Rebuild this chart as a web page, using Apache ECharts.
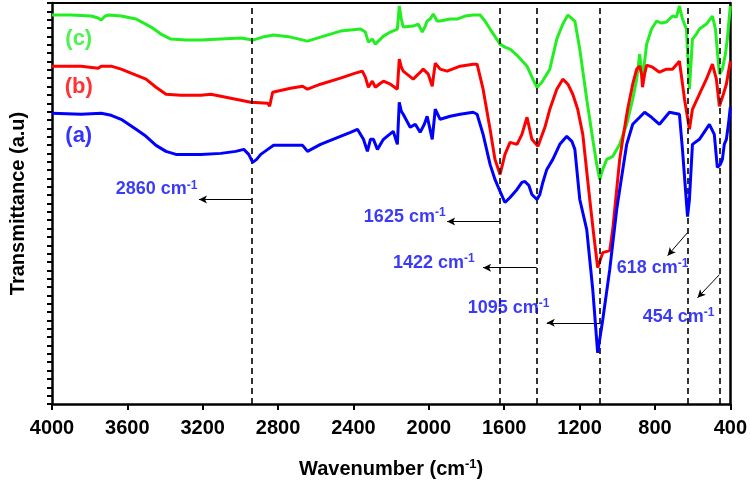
<!DOCTYPE html>
<html>
<head>
<meta charset="utf-8">
<script src="https://cdn.jsdelivr.net/npm/echarts@6/dist/echarts.min.js"></script>
<style>html,body{margin:0;padding:0;background:#fff}#c{width:750px;height:485px}</style>
</head>
<body>
<div id="c"></div>
<script>
// Wavenumber (cm-1) vs transmittance (a.u.)
const seriesC = [[4000,97],[3898,97],[3792,96.75],[3755,96.25],[3739,95.75],[3718,96.75],[3697,97],[3633,96.75],[3554,96],[3474,94],[3422,92.25],[3369,91],[3289,90.75],[3210,90.75],[3104,91],[2998,91.25],[2935,90.75],[2882,91.5],[2824,92],[2734,91.5],[2644,90.5],[2575,91.5],[2469,93],[2363,93.5],[2337,92.75],[2321,90.25],[2300,91],[2284,89.75],[2257,91],[2241,91.75],[2204,92.75],[2167,93.5],[2157,99.25],[2146,96],[2136,94],[2083,94.25],[2056,94.75],[2035,92.75],[2019,94.25],[2009,95.5],[1993,96],[1977,97.25],[1956,95.5],[1940,95.5],[1887,96],[1850,96],[1808,96.75],[1765,97],[1728,97],[1702,95.5],[1675,93.5],[1622,89.75],[1596,89],[1569,88.5],[1527,86.75],[1479,84.25],[1448,81],[1426,79],[1400,80.25],[1358,83.5],[1321,91],[1289,94.75],[1262,97],[1225,95.5],[1199,88.5],[1162,76],[1130,66],[1109,59.75],[1093,56],[1077,58.5],[1056,61],[1024,61.75],[987,64.75],[950,69.75],[918,76],[897,81],[881,87.25],[866,81],[844,89.75],[818,93.5],[791,95.5],[765,95],[739,95.25],[707,96.75],[686,96.5],[670,99.25],[654,96],[633,93.5],[617,78.5],[601,91],[580,92.25],[564,93.5],[527,94.75],[495,96.75],[479,93.5],[458,82.25],[442,83.5],[426,87.25],[416,91],[400,99.25]];
const seriesB = [[4000,84.25],[3845,84.25],[3755,83.75],[3739,84.25],[3686,84.25],[3633,83.5],[3554,82],[3501,81],[3448,79],[3395,77.25],[3316,77],[3210,77],[3157,77.25],[3051,76.25],[2945,75.25],[2855,75],[2845,74.25],[2829,77.75],[2734,78.75],[2670,79.25],[2644,78.5],[2575,79.75],[2469,81.25],[2390,82.5],[2353,83],[2337,81.5],[2321,79],[2300,80.5],[2284,79],[2257,80],[2241,80.5],[2204,79.75],[2167,78.5],[2157,86],[2146,84],[2136,83],[2083,81],[2056,82.25],[2030,83.5],[2003,82.25],[1982,79.25],[1966,85],[1940,83.5],[1903,83],[1834,84.25],[1765,84.75],[1744,84.75],[1712,78.5],[1675,68.5],[1649,61],[1622,57.25],[1596,62.25],[1569,65.25],[1532,64.75],[1506,67.25],[1479,71.5],[1453,66],[1421,64.25],[1384,69],[1358,73.5],[1321,78.5],[1289,81],[1262,79.75],[1236,77.25],[1210,73.5],[1183,67.25],[1146,51],[1125,42.25],[1104,34],[1077,37.75],[1040,38.25],[1024,43.5],[1003,53.5],[987,61],[971,66],[945,73.5],[918,79.75],[897,83.5],[881,84.25],[871,82.25],[866,79],[855,82.25],[844,84.5],[813,84],[776,82.75],[739,83.5],[707,83.5],[670,85.5],[643,76],[617,68.5],[601,73.5],[564,77.25],[527,81],[495,84.75],[474,81],[458,74.25],[437,77.25],[421,79.75],[400,85.5]];
const seriesA = [[4000,72.5],[3845,72.25],[3739,72.5],[3686,72],[3633,71],[3554,68.5],[3501,66.75],[3448,64.5],[3395,63],[3342,62.25],[3210,62.25],[3104,62.5],[3025,63],[2982,63.5],[2956,62.25],[2935,60.25],[2914,61],[2892,62.25],[2855,63.5],[2824,64.5],[2734,64.5],[2670,64.5],[2644,63],[2575,64.75],[2469,66.75],[2416,67.75],[2379,68.5],[2347,66],[2326,63],[2310,66],[2294,66],[2273,63.5],[2241,66],[2189,68],[2167,64.75],[2157,75.25],[2146,73],[2136,72.25],[2099,69],[2072,69.75],[2046,67.75],[2024,69.75],[2009,71.75],[1982,66],[1966,73.5],[1940,71],[1887,71.75],[1834,72.25],[1765,72.75],[1744,72.25],[1712,67.25],[1675,59.75],[1649,56],[1622,53],[1596,50.25],[1569,51.5],[1532,53.5],[1506,55.25],[1490,55.5],[1469,54.5],[1453,52.25],[1426,51],[1411,52.25],[1395,55.25],[1374,58.5],[1342,61],[1305,64.75],[1268,66.75],[1241,65.5],[1225,63.5],[1199,51],[1162,43.5],[1130,28.5],[1104,12.75],[1077,21],[1040,33.5],[1003,48.5],[987,53.5],[950,64.75],[918,69.75],[881,71.5],[855,72.75],[818,71.5],[776,69.75],[723,72.75],[670,72.25],[654,63.5],[638,53.5],[627,46.75],[617,51],[601,64.75],[564,66],[511,69.75],[485,67.25],[469,59],[453,59.75],[442,61],[432,64.75],[421,66],[410,69.75],[400,74]];

const xTicks = [4000,3600,3200,2800,2400,2000,1600,1200,800,400];
const peakLines = [2940,1622,1428,1093,624,458];
const peakNames = ['2860','1625','1422','1095','618','454'];
// label anchor [wavenumber, T] for each peak annotation text
const peakTextPos = [[3445,53.5],[2128,46.75],[1974,35.25],[1577,24],[813,34],[675,21.75]];
// arrow [from, to] for each peak annotation
const peakArrows = [
  [[2940,51],[3220,51]],
  [[1622,45.5],[1903,45.5]],
  [[1428,34],[1712,34]],
  [[1093,20.25],[1374,20.25]],
  [[627,42.75],[733,37]],
  [[458,32.25],[574,26.5]]
];
const curveNames = ['(a)','(b)','(c)'];
const curveColors = ['#0000ff','#ff0000','#22ee22'];
const curveLabelPos = [[3858,66.75],[3858,79],[3858,91]];

const FONT = 'Liberation Sans, Arial, sans-serif';
const annColor = '#0a0af5';

const chart = echarts.init(document.getElementById('c'));
const option = {
  backgroundColor: '#fff',
  animation: false,
  grid: {left: 51, right: 19, top: 3, bottom: 81},
  xAxis: [{
    type: 'value', inverse: true, min: 400, max: 4000, interval: 400,
    position: 'bottom',
    name: '{m|Wavenumber (cm}{s|-1}{m|)}',
    nameLocation: 'middle', nameGap: 54,
    nameTextStyle: {rich: {
      m: {fontFamily: FONT, fontSize: 20, fontWeight: 'bold', color: '#000', lineHeight: 22},
      s: {fontFamily: FONT, fontSize: 13, fontWeight: 'bold', color: '#000', verticalAlign: 'top', lineHeight: 14}
    }},
    axisLine: {show: true, onZero: false, lineStyle: {color: '#000', width: 2.5}},
    axisTick: {show: true, inside: false, length: 6, lineStyle: {color: '#000', width: 2}},
    axisLabel: {margin: 14, fontFamily: FONT, fontSize: 20, fontWeight: 'bold', color: '#000',
      customValues: xTicks, formatter: v => String(v)},
    splitLine: {show: false}
  }, {
    type: 'value', inverse: true, min: 400, max: 4000, position: 'top',
    axisLine: {show: true, onZero: false, lineStyle: {color: '#000', width: 2}},
    axisTick: {show: false}, axisLabel: {show: false}, splitLine: {show: false}
  }],
  yAxis: [{
    type: 'value', min: 0, max: 100, interval: 100/12, position: 'left',
    name: 'Transmittance (a.u)', nameLocation: 'middle', nameGap: 24,
    nameTextStyle: {fontFamily: FONT, fontSize: 20, fontWeight: 'bold', color: '#000'},
    axisLine: {show: true, onZero: false, lineStyle: {color: '#000', width: 2.5}},
    axisTick: {show: true, inside: false, length: 5, lineStyle: {color: '#000', width: 2}},
    minorTick: {show: true, splitNumber: 4, length: 5, lineStyle: {color: '#000', width: 2}},
    axisLabel: {show: false}, splitLine: {show: false}, minorSplitLine: {show: false}
  }, {
    type: 'value', min: 0, max: 100, position: 'right',
    axisLine: {show: true, onZero: false, lineStyle: {color: '#000', width: 2.5}},
    axisTick: {show: false}, axisLabel: {show: false}, splitLine: {show: false}
  }],
  series: [
    {type: 'line', name: 'c', data: seriesC, showSymbol: false, symbol: 'none', z: 3,
      lineStyle: {color: curveColors[2], width: 3}},
    {type: 'line', name: 'b', data: seriesB, showSymbol: false, symbol: 'none', z: 4,
      lineStyle: {color: curveColors[1], width: 3}},
    {type: 'line', name: 'a', data: seriesA, showSymbol: false, symbol: 'none', z: 5,
      lineStyle: {color: curveColors[0], width: 3}},
    {type: 'line', data: [], z: 2,
      markLine: {silent: true, symbol: ['none','none'], animation: false,
        label: {show: false},
        lineStyle: {color: '#000', type: [6,4], width: 1.6},
        data: peakLines.map(v => ({xAxis: v}))}},
    {type: 'line', data: [], z: 6,
      markLine: {silent: true, symbol: ['none','arrow'], symbolSize: [6,8], animation: false,
        label: {show: false},
        lineStyle: {color: '#000', type: 'solid', width: 1},
        data: peakArrows.map(a => [{coord: a[0]}, {coord: a[1]}])}},
    {type: 'scatter', symbolSize: 0, z: 7, silent: true,
      data: peakTextPos.map((p, i) => ({value: p, name: peakNames[i]})),
      label: {show: true, position: 'inside',
        formatter: p => '{m|' + p.name + ' cm}{s|-1}',
        rich: {
          m: {fontFamily: FONT, fontSize: 18, fontWeight: 'bold', color: annColor, lineHeight: 20},
          s: {fontFamily: FONT, fontSize: 12, fontWeight: 'bold', color: annColor, verticalAlign: 'top', lineHeight: 12}
        }}},
    {type: 'scatter', symbolSize: 0, z: 7, silent: true,
      data: curveLabelPos.map((p, i) => ({value: p, name: curveNames[i],
        label: {color: curveColors[i]}})),
      label: {show: true, position: 'inside', formatter: p => p.name,
        fontFamily: FONT, fontSize: 22, fontWeight: 'bold'}}
  ]
};
chart.setOption(option);
</script>
</body>
</html>
